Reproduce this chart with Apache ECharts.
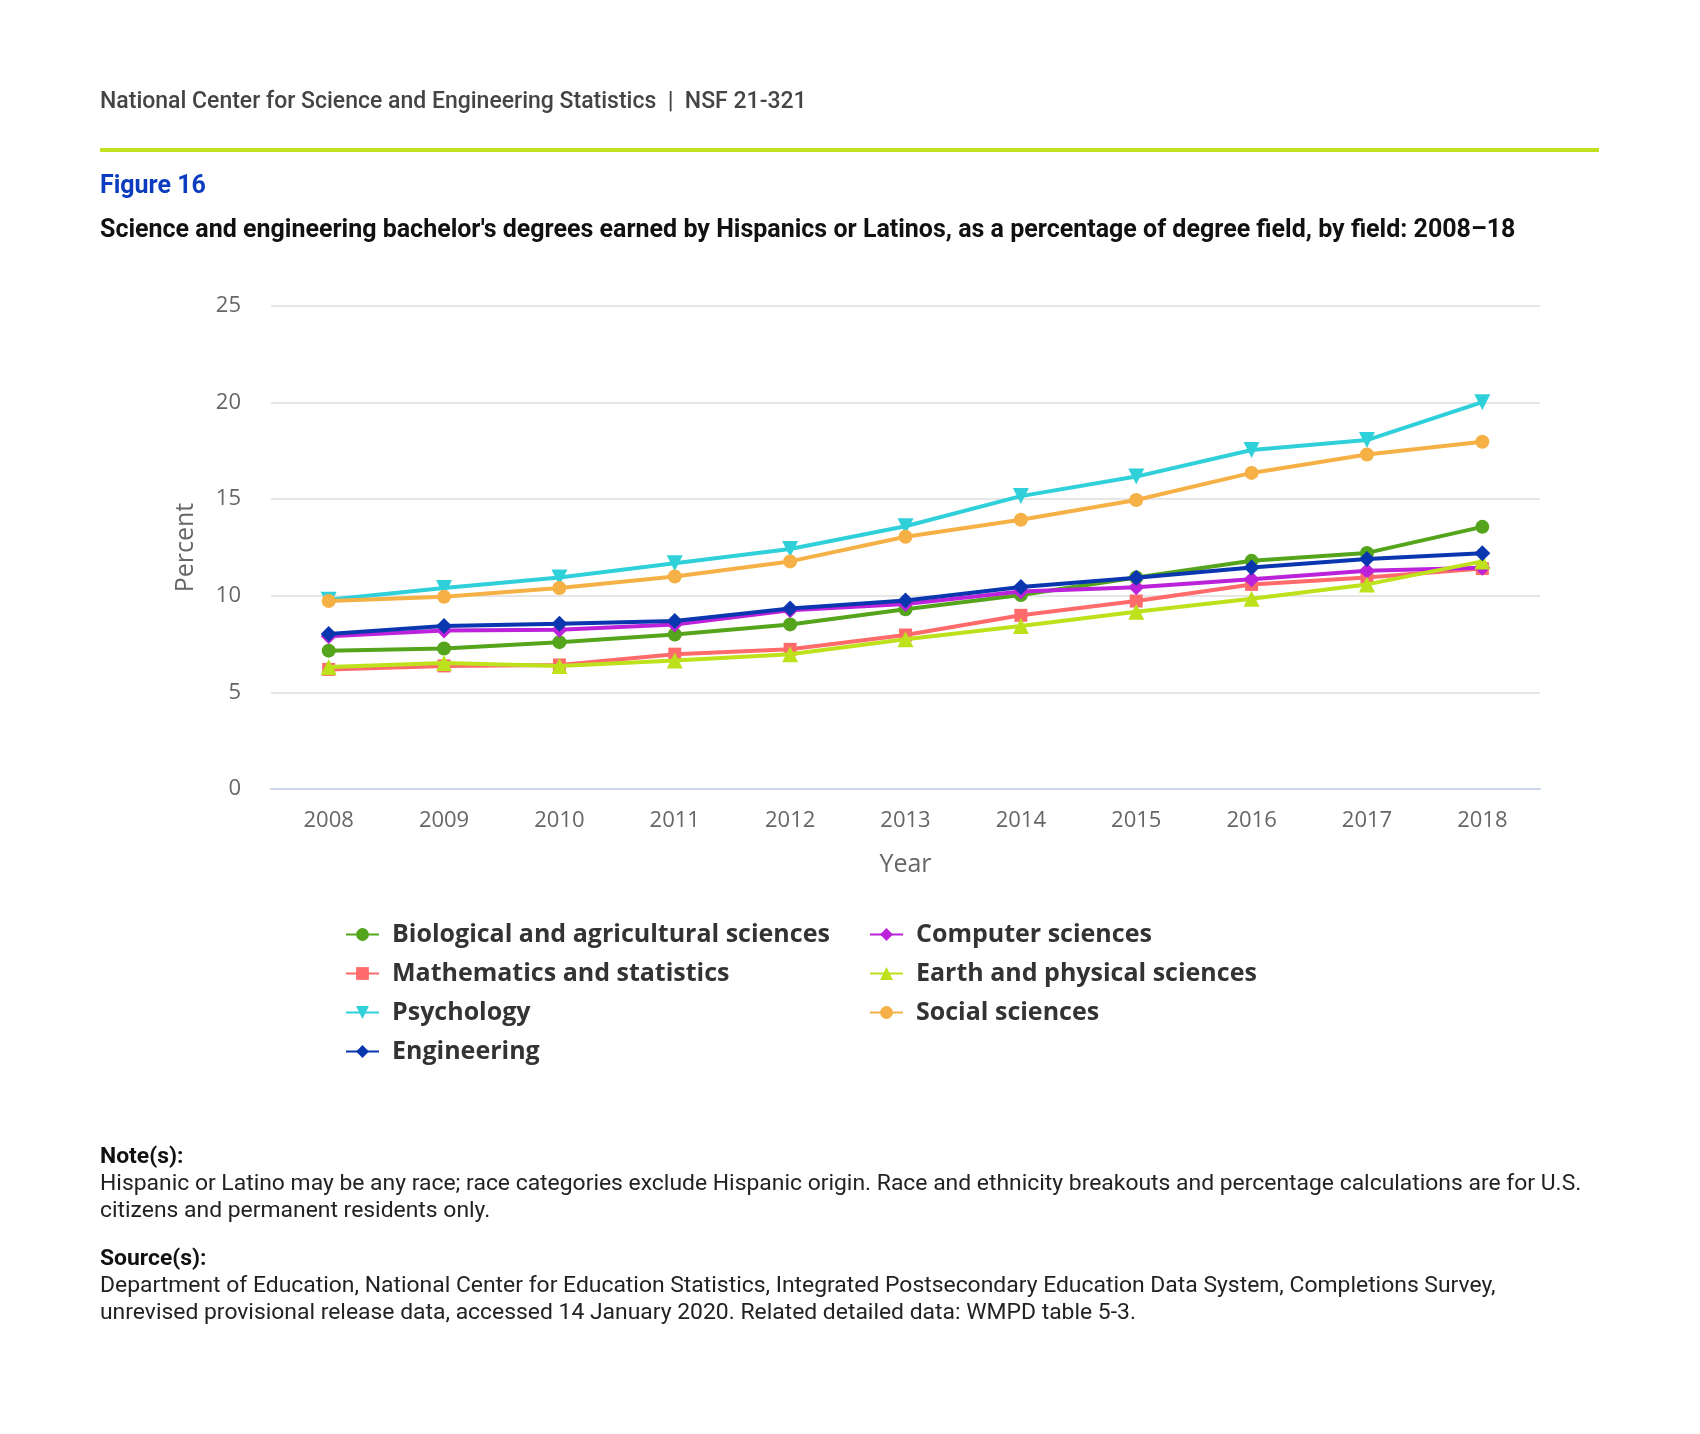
<!DOCTYPE html>
<html>
<head>
<meta charset="utf-8">
<script src="https://cdn.jsdelivr.net/npm/echarts@6/dist/echarts.min.js"></script>
<style>
  html, body { margin: 0; padding: 0; background: #fff; }
  body { width: 1700px; height: 1434px; position: relative; overflow: hidden; font-family: Roboto, "Liberation Sans", sans-serif; }
  .abs { position: absolute; left: 100px; white-space: nowrap; }
  #hdr { top: 87px; font-size: 23px; font-weight: 500; color: #444; }
  #rule { position: absolute; left: 100px; top: 148px; width: 1499px; height: 4px; background: #c2e01f; }
  #fig { top: 170px; font-size: 25px; font-weight: 700; color: #0b3dbe; }
  #ttl { top: 214px; font-size: 25px; font-weight: 700; color: #111; }
  .notes { font-size: 22.9px; color: #222; line-height: 27px; }
  .notes b { font-weight: 700; color: #111; }
  #note { top: 1142px; }
  #src { top: 1244px; }
  #chart { position: absolute; left: 0; top: 0; width: 1700px; height: 1434px; }
</style>
</head>
<body>
<div id="chart"></div>
<div class="abs" id="hdr">National Center for Science and Engineering Statistics &nbsp;|&nbsp; NSF 21-321</div>
<div id="rule"></div>
<div class="abs" id="fig">Figure 16</div>
<div class="abs" id="ttl">Science and engineering bachelor's degrees earned by Hispanics or Latinos, as a percentage of degree field, by field: 2008–18</div>
<div class="abs notes" id="note"><b>Note(s):</b><br>Hispanic or Latino may be any race; race categories exclude Hispanic origin. Race and ethnicity breakouts and percentage calculations are for U.S.<br>citizens and permanent residents only.</div>
<div class="abs notes" id="src"><b>Source(s):</b><br>Department of Education, National Center for Education Statistics, Integrated Postsecondary Education Data System, Completions Survey,<br>unrevised provisional release data, accessed 14 January 2020. Related detailed data: WMPD table 5-3.</div>
<script>
const years = ['2008','2009','2010','2011','2012','2013','2014','2015','2016','2017','2018'];
const yTicks = [0, 5, 10, 15, 20, 25];
const biological = [7.16, 7.27, 7.60, 8.00, 8.52, 9.30, 10.04, 10.95, 11.81, 12.22, 13.57];
const computer   = [7.90, 8.20, 8.24, 8.52, 9.25, 9.58, 10.22, 10.44, 10.86, 11.30, 11.45];
const mathematics= [6.19, 6.37, 6.42, 6.98, 7.23, 7.97, 8.99, 9.73, 10.59, 10.95, 11.41];
const earth      = [6.32, 6.52, 6.37, 6.65, 6.98, 7.75, 8.44, 9.18, 9.85, 10.59, 11.78];
const psychology = [9.80, 10.40, 10.95, 11.68, 12.42, 13.60, 15.16, 16.17, 17.55, 18.06, 20.02];
const social     = [9.73, 9.95, 10.40, 11.00, 11.78, 13.06, 13.94, 14.96, 16.36, 17.31, 17.97];
const engineering= [8.02, 8.44, 8.55, 8.70, 9.34, 9.76, 10.46, 10.93, 11.47, 11.90, 12.20];

const names = {
  bio: 'Biological and agricultural sciences',
  comp: 'Computer sciences',
  math: 'Mathematics and statistics',
  earth: 'Earth and physical sciences',
  psy: 'Psychology',
  soc: 'Social sciences',
  eng: 'Engineering'
};

function mk(name, data, color, symbol, size, extra) {
  return Object.assign({
    name: name, type: 'line', data: data, color: color,
    symbol: symbol, symbolSize: size, showSymbol: true,
    lineStyle: { width: 4, color: color },
    itemStyle: { color: color },
    emphasis: { disabled: true },
    animation: false
  }, extra || {});
}

const chart = echarts.init(document.getElementById('chart'), null, { renderer: 'canvas' });
const legendText = { fontFamily: 'Open Sans', fontWeight: 'bold', fontSize: 25, color: '#333', padding: [0, 0, 0, 8] };
chart.setOption({
  animation: false,
  grid: { left: 271, right: 160, top: 306, bottom: 645, containLabel: false },
  xAxis: {
    type: 'category', data: years, boundaryGap: true,
    name: 'Year', nameLocation: 'middle', nameGap: 63,
    nameTextStyle: { fontFamily: 'Open Sans', fontSize: 25, color: '#666' },
    axisLine: { lineStyle: { color: '#ccd6eb', width: 2 } },
    axisTick: { alignWithLabel: true, length: 11, lineStyle: { color: '#ccd6eb', width: 2 } },
    axisLabel: { fontFamily: 'Open Sans', fontSize: 22, color: '#666', margin: 21 }
  },
  yAxis: {
    type: 'value', min: yTicks[0], max: yTicks[yTicks.length - 1], interval: 5,
    name: 'Percent', nameLocation: 'middle', nameGap: 73, nameRotate: 90,
    nameTextStyle: { fontFamily: 'Open Sans', fontSize: 25, color: '#666' },
    axisLine: { show: false }, axisTick: { show: false },
    axisLabel: { fontFamily: 'Open Sans', fontSize: 22, color: '#666', margin: 30 },
    splitLine: { lineStyle: { color: '#e6e6e6', width: 2 } }
  },
  legend: [
    { data: [names.bio, names.math, names.psy, names.eng], orient: 'vertical',
      left: 340, top: 917, itemWidth: 33, itemHeight: 16, itemGap: 14, textStyle: legendText,
      selectedMode: false },
    { data: [names.comp, names.earth, names.soc], orient: 'vertical',
      left: 864, top: 917, itemWidth: 33, itemHeight: 16, itemGap: 14, textStyle: legendText,
      selectedMode: false }
  ],
  series: [
    mk(names.bio, biological, '#55a51c', 'circle', 14, { z: 2 }),
    mk(names.comp, computer, '#bb22d9', 'diamond', 16, { z: 3 }),
    mk(names.math, mathematics, '#ff6b6b', 'rect', 13, { z: 2 }),
    mk(names.earth, earth, '#bde11b', 'triangle', 16, { z: 3 }),
    mk(names.psy, psychology, '#2fd0d9', 'triangle', 16, { z: 2, symbolRotate: 180 }),
    mk(names.soc, social, '#f6b146', 'circle', 14, { z: 3 }),
    mk(names.eng, engineering, '#0a36b0', 'diamond', 16, { z: 4 })
  ]
});
</script>
</body>
</html>
